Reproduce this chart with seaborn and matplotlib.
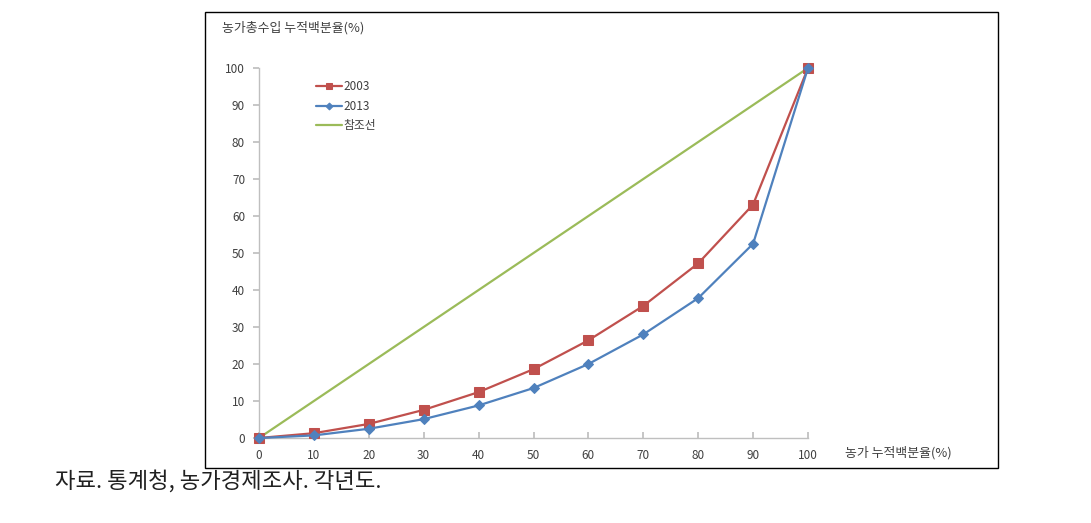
import numpy as np
import pandas as pd
import matplotlib
matplotlib.use("Agg")
import matplotlib.pyplot as plt
import seaborn as sns
from matplotlib.patches import Rectangle

sns.set_theme(style="white")
plt.rcParams['font.family'] = ['Noto Sans CJK KR', 'DejaVu Sans']

x_vals = [0, 10, 20, 30, 40, 50, 60, 70, 80, 90, 100]
y_2003 = [0, 1.3, 3.8, 7.6, 12.4, 18.6, 26.4, 35.7, 47.2, 63.1, 100]
y_2013 = [0, 0.7, 2.5, 5.1, 8.8, 13.5, 20.0, 28.0, 37.8, 52.5, 100]
y_ref = [0, 100]
x_ref = [0, 100]
labels = ["2003", "2013", "참조선"]
y_title = "농가총수입 누적백분율(%)"
x_title = "농가 누적백분율(%)"
caption = "자료. 통계청, 농가경제조사. 각년도."

fig = plt.figure(figsize=(10.91, 5.23), dpi=100)
fig.patch.set_facecolor("white")
# chart border box
fig.patches.append(Rectangle((205/1091, 1-468/523), (998-205)/1091, (468-12)/523,
                             transform=fig.transFigure, fill=False,
                             edgecolor="black", linewidth=1.0))

ax = fig.add_axes([259/1091, 1-438/523, (808-259)/1091, (438-68)/523])

df03 = pd.DataFrame({"x": x_vals, "y": y_2003})
df13 = pd.DataFrame({"x": x_vals, "y": y_2013})
dfr = pd.DataFrame({"x": x_ref, "y": y_ref})

red = "#C0504D"
blue = "#4F81BD"
green = "#9BBB59"

sns.lineplot(data=dfr, x="x", y="y", ax=ax, color=green, linewidth=1.6, label=labels[2], zorder=2)
sns.lineplot(data=df03, x="x", y="y", ax=ax, color=red, linewidth=1.6, marker="s",
             markersize=6.5, markeredgecolor=red, label=labels[0], zorder=3)
sns.lineplot(data=df13, x="x", y="y", ax=ax, color=blue, linewidth=1.6, marker="D",
             markersize=5, markeredgecolor=blue, label=labels[1], zorder=4)
for ln in ax.lines:
    ln.set_clip_on(False)

ax.set_xlim(0, 100)
ax.set_ylim(0, 100)
ax.set_xticks(range(0, 101, 10))
ax.set_yticks(range(0, 101, 10))
ax.set_xlabel("")
ax.set_ylabel("")
for s in ["top", "right"]:
    ax.spines[s].set_visible(False)
for s in ["left", "bottom"]:
    ax.spines[s].set_color("#BFBFBF")
    ax.spines[s].set_linewidth(1)
ax.tick_params(axis="x", direction="in", length=4, color="#BFBFBF", labelsize=8.5,
               labelcolor="#404040", pad=8)
ax.tick_params(axis="y", direction="out", length=4, color="#BFBFBF", labelsize=8.5,
               labelcolor="#404040", pad=6)
ax.tick_params(left=True, bottom=True)

handles, labs = ax.get_legend_handles_labels()
order = [labs.index(l) for l in labels]
leg = ax.legend([handles[i] for i in order], [labs[i] for i in order],
                loc="upper left", bbox_to_anchor=(0.085, 0.995), frameon=False,
                fontsize=8.5, handlelength=2.2, handletextpad=0.1, labelspacing=0.55,
                markerscale=0.7, labelcolor="#404040")

fig.text(222/1091, 1-28/523, y_title, fontsize=9.3, color="#404040", va="center", ha="left")
fig.text(845/1091, 1-453/523, x_title, fontsize=9.3, color="#404040", va="center", ha="left")
fig.text(55/1091, 1-481/523, caption, fontsize=16, color="#202020", va="center", ha="left")

fig.savefig("out.png", dpi=100, facecolor="white")
